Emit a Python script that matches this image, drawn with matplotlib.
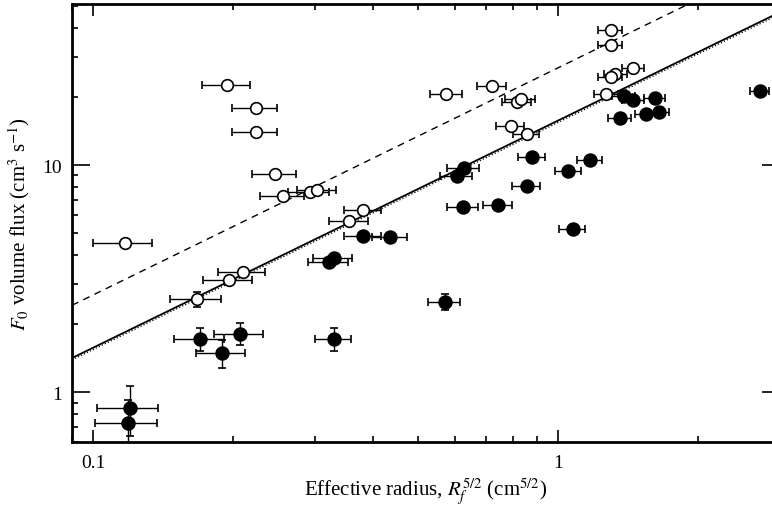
import numpy as np
import matplotlib
matplotlib.use('Agg')
import matplotlib.pyplot as plt

plt.rcParams['font.family'] = ['Liberation Serif', 'DejaVu Serif']
plt.rcParams['mathtext.fontset'] = 'stix'

# open circles
open_x = [0.117, 0.194, 0.224, 0.224, 0.246, 0.256, 0.292, 0.303, 0.381, 0.355,
          0.210, 0.196, 0.167, 1.296, 1.296, 1.45, 1.328, 1.296, 1.269, 0.721,
          0.575, 0.816, 0.830, 0.790, 0.855]
open_y = [4.52, 22.6, 17.8, 14.0, 9.10, 7.31, 7.63, 7.79, 6.36, 5.69,
          3.39, 3.12, 2.56, 39.3, 33.7, 26.8, 25.1, 24.5, 20.5, 22.3,
          20.5, 19.0, 19.5, 14.9, 13.7]
open_xerr = [0.017, 0.023, 0.025, 0.025, 0.027, 0.028, 0.030, 0.029, 0.035, 0.034,
             0.0245, 0.024, 0.021, 0.075, 0.075, 0.081, 0.076, 0.075, 0.075, 0.052,
             0.045, 0.060, 0.060, 0.055, 0.056]
open_yerr = [0, 0, 0, 0, 0, 0, 0, 0, 0, 0,
             0, 0, 0.19, 0, 0, 0, 0, 0, 0, 0,
             0, 0, 0, 0, 0]

# filled circles
filled_x = [0.381, 0.4355, 0.329, 0.321, 0.170, 0.207, 0.189, 0.329, 0.120, 0.119,
            0.570, 0.626, 0.606, 0.879, 1.17, 1.052, 0.855, 0.624, 0.742, 1.074,
            1.384, 1.45, 1.612, 1.357, 1.542, 1.647, 2.718]
filled_y = [4.89, 4.84, 3.89, 3.73, 1.716, 1.805, 1.484, 1.716, 0.853, 0.731,
            2.504, 9.67, 8.97, 10.81, 10.52, 9.38, 8.11, 6.55, 6.67, 5.23,
            20.06, 19.38, 19.72, 16.1, 16.77, 17.16, 21.23]
filled_xerr = [0.035, 0.037, 0.032, 0.032, 0.021, 0.025, 0.023, 0.029, 0.018, 0.018,
               0.0455, 0.049, 0.048, 0.060, 0.070, 0.068, 0.059, 0.048, 0.053, 0.069,
               0.076, 0.080, 0.085, 0.076, 0.080, 0.085, 0.126]
filled_yerr = [0, 0, 0, 0, 0.20, 0.20, 0.21, 0.20, 0.21, 0.19,
               0.21, 0, 0, 0, 0, 0, 0, 0, 0, 0,
               0, 0, 0, 0, 0, 0, 0]

# fitted lines F = c * R^(5/2)
c_solid = 15.7
c_dotted = 15.4
c_dashed = 26.8

fig = plt.figure(figsize=(7.72, 5.10), dpi=100)
ax = fig.add_axes([0.0933, 0.1304, 0.917, 0.8592])
ax.set_xscale('log')
ax.set_yscale('log')
ax.set_xlim(0.09, 3.0)
ax.set_ylim(0.6, 51)

xl = np.array([0.09, 3.0])
ax.plot(xl, c_solid * xl, '-', color='black', lw=1.3, zorder=1)
ax.plot(xl, c_dotted * xl, ':', color='black', lw=0.9, zorder=1)
ax.plot(xl, c_dashed * xl, '--', color='black', lw=1.0, dashes=(5, 4), zorder=1)


def draw(xs, ys, xe, ye, face, ms):
    xs, ys, xe, ye = map(np.asarray, (xs, ys, xe, ye))
    has_y = ye > 0
    kw = dict(fmt='o', mfc=face, mec='black', mew=1.2, ms=ms,
              ecolor='black', elinewidth=1.0, capsize=2.6, capthick=1.0, zorder=3)
    ax.errorbar(xs[~has_y], ys[~has_y], xerr=xe[~has_y], **kw)
    ax.errorbar(xs[has_y], ys[has_y], xerr=xe[has_y], yerr=ye[has_y], **kw)


draw(open_x, open_y, open_xerr, open_yerr, 'white', 8.4)
draw(filled_x, filled_y, filled_xerr, filled_yerr, 'black', 9.2)

for s in ax.spines.values():
    s.set_linewidth(2.0)

ax.tick_params(which='both', direction='in', top=True, right=True, labelsize=14, width=1.2)
ax.tick_params(axis='y', which='major', length=13, pad=7)
ax.tick_params(axis='y', which='minor', length=4)
ax.tick_params(axis='x', which='major', length=8.5, pad=8)
ax.tick_params(axis='x', which='minor', length=4)
ax.xaxis.set_major_formatter(matplotlib.ticker.FuncFormatter(lambda v, p: f'{v:g}'))
ax.yaxis.set_major_formatter(matplotlib.ticker.FuncFormatter(lambda v, p: f'{v:g}'))
ax.xaxis.set_minor_formatter(matplotlib.ticker.NullFormatter())
ax.yaxis.set_minor_formatter(matplotlib.ticker.NullFormatter())

ax.set_xlabel(r'Effective radius, $R_f^{5/2}$ (cm$^{5/2}$)', fontsize=15, labelpad=4)
ax.set_ylabel(r'$F_0$ volume flux (cm$^3$ s$^{-1}$)', fontsize=15, labelpad=8)

fig.savefig('out.png', dpi=100)
